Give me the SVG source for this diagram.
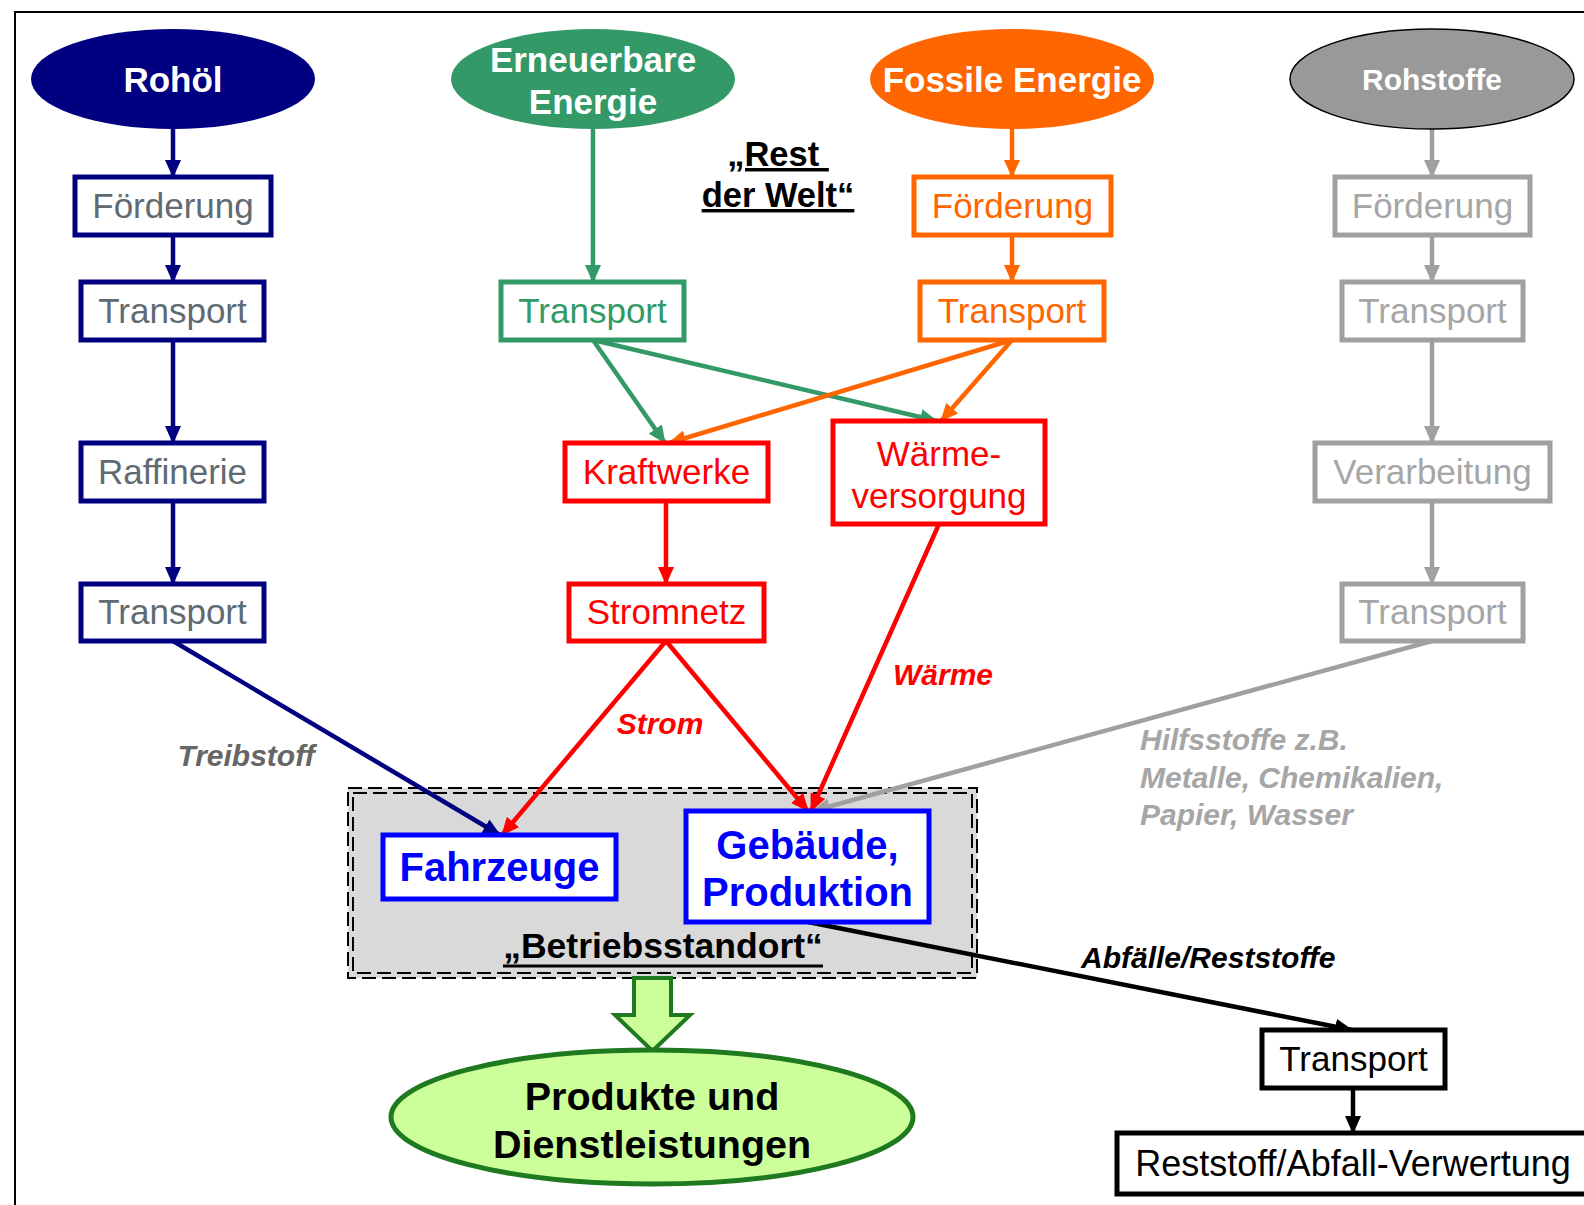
<svg xmlns="http://www.w3.org/2000/svg" width="1584" height="1205" viewBox="0 0 1584 1205">
<style>
text{font-family:"Liberation Sans",Arial,sans-serif;text-anchor:middle}
.t{font-size:35px}
.b{font-weight:bold}
.lab{font-weight:bold;font-style:italic;font-size:30px}
.box{fill:#fff;stroke-width:5}
.navy{stroke:#000080}.green{stroke:#339966}.orange{stroke:#FF6600}.gray{stroke:#A0A0A0}.red{stroke:#FF0000}.blue{stroke:#0000FF}.black{stroke:#000}
.c{fill:none;stroke-width:4.5}
</style>
<defs>
<marker id="aN" markerUnits="userSpaceOnUse" markerWidth="20" markerHeight="16" refX="17" refY="8" orient="auto"><path d="M0,0 L18,8 L0,16 Z" fill="#000080"/></marker>
<marker id="aG" markerUnits="userSpaceOnUse" markerWidth="20" markerHeight="16" refX="17" refY="8" orient="auto"><path d="M0,0 L18,8 L0,16 Z" fill="#339966"/></marker>
<marker id="aO" markerUnits="userSpaceOnUse" markerWidth="20" markerHeight="16" refX="17" refY="8" orient="auto"><path d="M0,0 L18,8 L0,16 Z" fill="#FF6600"/></marker>
<marker id="aY" markerUnits="userSpaceOnUse" markerWidth="20" markerHeight="16" refX="17" refY="8" orient="auto"><path d="M0,0 L18,8 L0,16 Z" fill="#A0A0A0"/></marker>
<marker id="aR" markerUnits="userSpaceOnUse" markerWidth="20" markerHeight="16" refX="17" refY="8" orient="auto"><path d="M0,0 L18,8 L0,16 Z" fill="#FF0000"/></marker>
<marker id="aK" markerUnits="userSpaceOnUse" markerWidth="20" markerHeight="16" refX="17" refY="8" orient="auto"><path d="M0,0 L18,8 L0,16 Z" fill="#000"/></marker>
</defs>
<rect x="15" y="12" width="1620" height="1220" fill="#fff" stroke="#000" stroke-width="2"/>

<g id="betriebsstandort">
<rect x="348" y="788" width="629" height="190" fill="#D9D9D9" stroke="#000" stroke-width="2" stroke-dasharray="14,6"/>
<rect x="353" y="793" width="619" height="180" fill="none" stroke="#000" stroke-width="2" stroke-dasharray="14,6"/>
<text x="663" y="958" class="b" font-size="35.5">„Betriebsstandort“</text>
<line x1="503" y1="966" x2="823" y2="966" stroke="#000" stroke-width="3"/>
</g>

<g id="rest-der-welt">
<text x="778" y="166" class="b" font-size="34.5" text-decoration="underline">„Rest&#160;</text>
<text x="778" y="207" class="b" font-size="34.5" text-decoration="underline">der Welt“</text>
</g>

<g id="connectors">
<line class="c navy" x1="173" y1="129" x2="173" y2="177" marker-end="url(#aN)"/>
<line class="c navy" x1="173" y1="235" x2="173" y2="282" marker-end="url(#aN)"/>
<line class="c navy" x1="173" y1="340" x2="173" y2="443" marker-end="url(#aN)"/>
<line class="c navy" x1="173" y1="502" x2="173" y2="584" marker-end="url(#aN)"/>
<line class="c navy" x1="173" y1="641" x2="500" y2="835" marker-end="url(#aN)"/>
<line class="c green" x1="593" y1="129" x2="593" y2="282" marker-end="url(#aG)"/>
<line class="c green" x1="593" y1="340" x2="665" y2="443" marker-end="url(#aG)"/>
<line class="c green" x1="593" y1="340" x2="937" y2="421" marker-end="url(#aG)"/>
<line class="c orange" x1="1012" y1="129" x2="1012" y2="177" marker-end="url(#aO)"/>
<line class="c orange" x1="1012" y1="235" x2="1012" y2="282" marker-end="url(#aO)"/>
<line class="c orange" x1="1012" y1="340" x2="669" y2="443" marker-end="url(#aO)"/>
<line class="c orange" x1="1012" y1="340" x2="941" y2="421" marker-end="url(#aO)"/>
<line class="c gray" x1="1432" y1="129" x2="1432" y2="177" marker-end="url(#aY)"/>
<line class="c gray" x1="1432" y1="235" x2="1432" y2="282" marker-end="url(#aY)"/>
<line class="c gray" x1="1432" y1="340" x2="1432" y2="443" marker-end="url(#aY)"/>
<line class="c gray" x1="1432" y1="502" x2="1432" y2="584" marker-end="url(#aY)"/>
<line class="c gray" x1="1432" y1="641" x2="813" y2="811" marker-end="url(#aY)"/>
<line class="c red" x1="666" y1="502" x2="666" y2="584" marker-end="url(#aR)"/>
<line class="c red" x1="666" y1="641" x2="502" y2="835" marker-end="url(#aR)"/>
<line class="c red" x1="666" y1="641" x2="808" y2="811" marker-end="url(#aR)"/>
<line class="c red" x1="939" y1="524" x2="811" y2="811" marker-end="url(#aR)"/>
<line class="c black" x1="808" y1="922" x2="1352" y2="1030" marker-end="url(#aK)"/>
<line class="c black" x1="1353" y1="1088" x2="1353" y2="1133" marker-end="url(#aK)"/>
<path d="M634,978 L671,978 L671,1015 L690,1015 L652.5,1051 L615,1015 L634,1015 Z" fill="#CCFF99" stroke="#1F7A1F" stroke-width="4" stroke-linejoin="miter"/>
</g>

<g id="labels">
<text x="246" y="766" class="lab" fill="#666666">Treibstoff</text>
<text x="660" y="734" class="lab" fill="#FF0000">Strom</text>
<text x="943" y="685" class="lab" fill="#FF0000">Wärme</text>
<text x="1140" y="750" class="lab" font-size="29" fill="#A6A6A6" style="text-anchor:start">Hilfsstoffe z.B.</text>
<text x="1140" y="788" class="lab" font-size="29" fill="#A6A6A6" style="text-anchor:start">Metalle, Chemikalien,</text>
<text x="1140" y="825" class="lab" font-size="29" fill="#A6A6A6" style="text-anchor:start">Papier, Wasser</text>
<text x="1081" y="968" class="lab" font-size="31" fill="#000" style="text-anchor:start">Abfälle/Reststoffe</text>
</g>

<g id="rohoel"><ellipse cx="173" cy="79" rx="142" ry="50" fill="#000080"/><text x="173" y="92" class="t b" fill="#fff">Rohöl</text></g>
<g id="erneuerbare"><ellipse cx="593" cy="79" rx="142" ry="50" fill="#339966"/><text x="593" y="72" class="t b" fill="#fff">Erneuerbare</text><text x="593" y="114" class="t b" fill="#fff">Energie</text></g>
<g id="fossile"><ellipse cx="1012" cy="79" rx="142" ry="50" fill="#FF6600"/><text x="1012" y="92" class="t b" fill="#fff">Fossile Energie</text></g>
<g id="rohstoffe"><ellipse cx="1432" cy="79" rx="142" ry="50" fill="#999999" stroke="#000" stroke-width="1.5"/><text x="1432" y="90" class="b" font-size="30" fill="#fff">Rohstoffe</text></g>

<g id="n-foerderung1"><rect class="box navy" x="75" y="177" width="196" height="58"/><text x="173" y="218" class="t" fill="#5F6A72">Förderung</text></g>
<g id="n-transport1"><rect class="box navy" x="81" y="282" width="183" height="58"/><text x="172.5" y="323" class="t" fill="#5F6A72">Transport</text></g>
<g id="n-raffinerie"><rect class="box navy" x="81" y="443" width="183" height="58"/><text x="172.5" y="484" class="t" fill="#5F6A72">Raffinerie</text></g>
<g id="n-transport2"><rect class="box navy" x="81" y="584" width="183" height="57"/><text x="172.5" y="624" class="t" fill="#5F6A72">Transport</text></g>

<g id="g-transport"><rect class="box green" x="501" y="282" width="183" height="58"/><text x="592.5" y="323" class="t" fill="#339966">Transport</text></g>

<g id="o-foerderung"><rect class="box orange" x="914" y="177" width="197" height="58"/><text x="1012.5" y="218" class="t" fill="#FF6600">Förderung</text></g>
<g id="o-transport"><rect class="box orange" x="920" y="282" width="184" height="58"/><text x="1012" y="323" class="t" fill="#FF6600">Transport</text></g>

<g id="y-foerderung"><rect class="box gray" x="1335" y="177" width="195" height="58"/><text x="1432.5" y="218" class="t" fill="#A6A6A6">Förderung</text></g>
<g id="y-transport1"><rect class="box gray" x="1342" y="282" width="181" height="58"/><text x="1432.5" y="323" class="t" fill="#A6A6A6">Transport</text></g>
<g id="y-verarbeitung"><rect class="box gray" x="1315" y="443" width="235" height="58"/><text x="1432.5" y="484" class="t" fill="#A6A6A6">Verarbeitung</text></g>
<g id="y-transport2"><rect class="box gray" x="1342" y="584" width="181" height="57"/><text x="1432.5" y="624" class="t" fill="#A6A6A6">Transport</text></g>

<g id="r-kraftwerke"><rect class="box red" x="565" y="443" width="203" height="58"/><text x="666.5" y="484" class="t" fill="#FF0000">Kraftwerke</text></g>
<g id="r-waerme"><rect class="box red" x="833" y="421" width="212" height="103"/><text x="939" y="466" class="t" fill="#FF0000">Wärme-</text><text x="939" y="508" class="t" fill="#FF0000">versorgung</text></g>
<g id="r-stromnetz"><rect class="box red" x="569" y="584" width="195" height="57"/><text x="666.5" y="624" class="t" fill="#FF0000">Stromnetz</text></g>

<g id="fahrzeuge"><rect class="box blue" x="383" y="835" width="233" height="64"/><text x="499.5" y="881" class="b" font-size="40" fill="#0000FF">Fahrzeuge</text></g>
<g id="gebaeude"><rect class="box blue" x="686" y="811" width="243" height="111"/><text x="807.5" y="859" class="b" font-size="40" fill="#0000FF">Gebäude,</text><text x="807.5" y="906" class="b" font-size="40" fill="#0000FF">Produktion</text></g>

<g id="produkte"><ellipse cx="652" cy="1117" rx="261" ry="67" fill="#CCFF99" stroke="#1F7A1F" stroke-width="5"/><text x="652" y="1110" class="b" font-size="39.5" fill="#000">Produkte und</text><text x="652" y="1158" class="b" font-size="39.5" fill="#000">Dienstleistungen</text></g>

<g id="k-transport"><rect class="box black" x="1262" y="1030" width="183" height="58"/><text x="1353.5" y="1071" class="t" fill="#000">Transport</text></g>
<g id="k-verwertung"><rect class="box black" x="1117" y="1133" width="480" height="61"/><text x="1353" y="1176" font-size="36" fill="#000">Reststoff/Abfall-Verwertung</text></g>
</svg>
